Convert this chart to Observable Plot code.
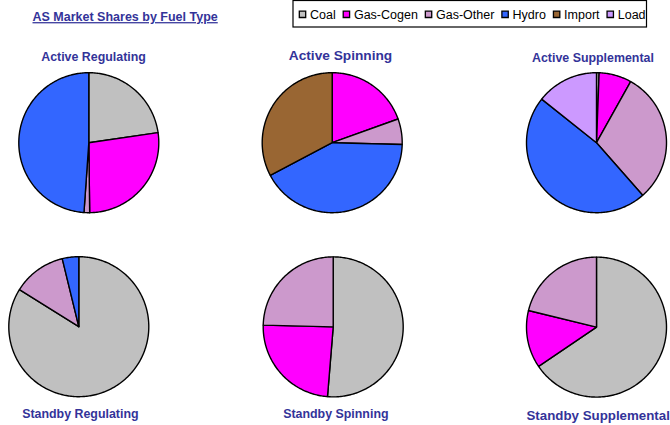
<!DOCTYPE html>
<html>
<head>
<meta charset="utf-8">
<script src="https://cdn.jsdelivr.net/npm/d3@7"></script>
<script src="https://cdn.jsdelivr.net/npm/@observablehq/plot@0.6"></script>
<style>
  html, body { margin: 0; padding: 0; background: #fff; }
  #chart { width: 670px; height: 425px; overflow: hidden; }
</style>
</head>
<body>
<div id="chart"></div>
<script>
// ---- data ----
const chartTitle = "AS Market Shares by Fuel Type";
const fuels = ["Coal", "Gas-Cogen", "Gas-Other", "Hydro", "Import", "Load"];
const fuelColors = ["#C0C0C0", "#FF00FF", "#CC99CC", "#3366FF", "#996633", "#CC99FF"];
const markets = ["Active Regulating", "Active Spinning", "Active Supplemental",
                 "Standby Regulating", "Standby Spinning", "Standby Supplemental"];
// shares (%) in fuel order: Coal, Gas-Cogen, Gas-Other, Hydro, Import, Load
const activeRegulating    = [22.7, 27.1, 1.3, 48.9, 0, 0];
const activeSpinning      = [0, 19.5, 5.9, 41.9, 32.7, 0];
const activeSupplemental  = [0.6, 7.5, 30.4, 47.1, 0, 14.3];
const standbyRegulating   = [83.9, 0, 12.3, 3.8, 0, 0];
const standbySpinning     = [51.3, 24.1, 24.6, 0, 0, 0];
const standbySupplemental = [65.5, 13.3, 21.2, 0, 0, 0];
const shares = [activeRegulating, activeSpinning, activeSupplemental,
                standbyRegulating, standbySpinning, standbySupplemental];

// ---- layout ----
const W = 670, H = 425, R = 70;
const centers = [[88.3, 142.2], [331.7, 142.2], [596, 142.2],
                 [78.3, 326.2], [332.7, 326.4], [596, 326.6]];
const titleLayout = [
  {x: 40.7, y: 60.5, size: 12.4},
  {x: 288.3, y: 59.6, size: 13.7},
  {x: 531.5, y: 61.6, size: 12.4},
  {x: 21.7, y: 417.8, size: 12.4},
  {x: 282.7, y: 417.8, size: 12.4},
  {x: 526, y: 419.8, size: 13.3}
];
const navy = "#333399";
const font = "'Liberation Sans', Arial, Helvetica, sans-serif";

// ---- build slice polygons from shares ----
const pie = d3.pie().sort(null).value(d => d.v).startAngle(0).endAngle(2 * Math.PI);
const pts = [];
shares.forEach((arr, i) => {
  const [cx, cy] = centers[i];
  const arcs = pie(arr.map((v, j) => ({v, fuel: fuels[j]})));
  arcs.forEach(a => {
    if (a.data.v <= 0) return;
    const key = markets[i] + "|" + a.data.fuel;
    const n = Math.max(2, Math.ceil((a.endAngle - a.startAngle) / (Math.PI / 180)));
    pts.push({x: cx, y: cy, key, fuel: a.data.fuel});
    for (let k = 0; k <= n; k++) {
      const t = a.startAngle + (a.endAngle - a.startAngle) * k / n;
      pts.push({x: cx + R * Math.sin(t), y: cy - R * Math.cos(t), key, fuel: a.data.fuel});
    }
  });
});

// ---- legend layout from text widths ----
const ctx = document.createElement("canvas").getContext("2d");
const legendFontSize = 12.5;
ctx.font = `${legendFontSize}px ${font}`;
const legendItems = [];
let lx = 298.5;
fuels.forEach((f, j) => {
  const w = ctx.measureText(f).width;
  legendItems.push({fuel: f, sx: lx + 3.5, tx: lx + 11});
  lx = lx + 11 + w + 7.2;
});

const titles = markets.map((m, i) => ({label: m, ...titleLayout[i]}));

const svg = Plot.plot({
  width: W, height: H,
  margin: 0,
  style: {fontFamily: font, background: "#fff", overflow: "visible"},
  x: {domain: [0, W], range: [0, W], axis: null},
  y: {domain: [0, H], range: [0, H], axis: null},
  color: {domain: fuels, range: fuelColors},
  marks: [
    // pies
    Plot.line(pts, {x: "x", y: "y", z: "key", fill: "fuel", stroke: "black",
      strokeWidth: 1.4, strokeLinejoin: "round", curve: "linear-closed"}),
    // chart title
    Plot.text([chartTitle], {x: 32, y: 20.6, text: d => d, textAnchor: "start",
      lineAnchor: "bottom", fontSize: 12.5, fontWeight: "bold", fill: navy}),
    // pie titles
    ...titles.map(t => Plot.text([t], {x: "x", y: "y", text: "label", textAnchor: "start",
      lineAnchor: "bottom", fontSize: t.size, fontWeight: "bold", fill: navy})),
    // legend box
    Plot.rect([0], {x1: 293, x2: 646.5, y1: 0.5, y2: 27, fill: "white", stroke: "black", strokeWidth: 1.2}),
    Plot.dot(legendItems, {x: "sx", y: 13.8, symbol: "square", r: 3.6, fill: "fuel",
      stroke: "black", strokeWidth: 1.3}),
    Plot.text(legendItems, {x: "tx", y: 18.3, text: "fuel", textAnchor: "start",
      lineAnchor: "bottom", fontSize: legendFontSize, fill: "black"})
  ]
});

d3.select(svg).selectAll("text")
  .filter(function() { return this.textContent === chartTitle; })
  .attr("text-decoration", "underline");

document.getElementById("chart").appendChild(svg);
</script>
</body>
</html>
